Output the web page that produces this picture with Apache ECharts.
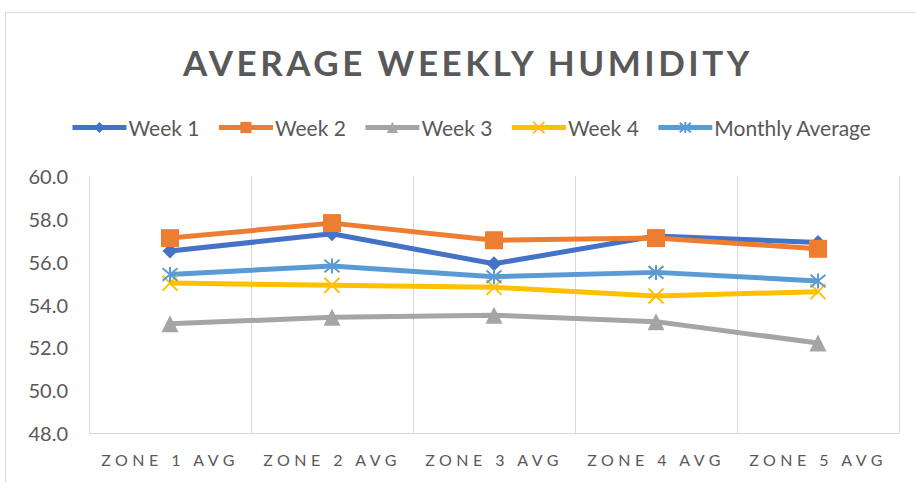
<!DOCTYPE html>
<html>
<head>
<meta charset="utf-8">
<script src="https://cdn.jsdelivr.net/npm/echarts@6/dist/echarts.min.js"></script>
<style>
  html, body { margin: 0; padding: 0; background: #fff; }
  #frame {
    position: absolute; left: 5px; top: 12px; width: 1000px; height: 1000px;
    border-top: 1px solid #d9d9d9; border-left: 1px solid #d9d9d9;
  }
  #chart { position: absolute; left: 0; top: 0; width: 916px; height: 482px; }
  /* spaced-out caps like the original title and zone labels */
  #chart text[style*="35px"] { letter-spacing: 3.5px; }
  #chart text[style*="16px"] { letter-spacing: 4.5px; }
</style>
</head>
<body>
<div id="frame"></div>
<div id="chart"></div>
<script>
const zones = ['ZONE 1 AVG', 'ZONE 2 AVG', 'ZONE 3 AVG', 'ZONE 4 AVG', 'ZONE 5 AVG']
const week1 = [56.5, 57.3, 55.9, 57.2, 56.9]
const week2 = [57.1, 57.8, 57.0, 57.1, 56.6]
const week3 = [53.1, 53.4, 53.5, 53.2, 52.2]
const week4 = [55.0, 54.9, 54.8, 54.4, 54.6]
const monthlyAvg = [55.4, 55.8, 55.3, 55.5, 55.1]

const FONT = 'Lato'
const TEXT = '#595959'
const GRID = '#d9d9d9'

const crossPath = 'path://M0,0L10,10M10,0L0,10'
const starPath = 'path://M0,0L10,10M10,0L0,10M5,-1L5,11'

function lineSeries(name, data, color, symbol, size, stroked) {
  return {
    name: name,
    type: 'line',
    data: data,
    symbol: symbol,
    symbolSize: size,
    showAllSymbol: true,
    lineStyle: { width: 5, color: color },
    itemStyle: stroked
      ? { color: 'rgba(0,0,0,0)', borderColor: color, borderWidth: 2 }
      : { color: color },
    emphasis: { disabled: true }
  }
}

const chart = echarts.init(document.getElementById('chart'), null, { renderer: 'svg' })
chart.setOption({
  animation: false,
  backgroundColor: 'transparent',
  title: {
    text: 'AVERAGE WEEKLY HUMIDITY',
    left: 183,
    top: 44,
    padding: 0,
    textStyle: { fontFamily: FONT, fontSize: 35, fontWeight: 'bold', color: TEXT }
  },
  legend: {
    top: 117,
    left: 70,
    padding: 0,
    itemWidth: 54,
    itemHeight: 14,
    itemGap: 17,
    lineStyle: { width: 5 },
    textStyle: { fontFamily: FONT, fontSize: 21, color: TEXT, padding: [0, 0, 0, -3] },
    data: ['Week 1', 'Week 2', 'Week 3', 'Week 4', 'Monthly Average']
  },
  grid: { left: 89, right: 17, top: 176, bottom: 49 },
  xAxis: {
    type: 'category',
    data: zones,
    boundaryGap: true,
    axisLine: { lineStyle: { color: GRID, width: 1 } },
    axisTick: { show: false },
    axisLabel: { fontFamily: FONT, fontSize: 16, color: TEXT, margin: 18, interval: 0 },
    splitLine: { show: true, lineStyle: { color: GRID, width: 1 } }
  },
  yAxis: {
    type: 'value',
    min: 48,
    max: 60,
    interval: 2,
    axisLine: { show: false },
    axisTick: { show: false },
    splitLine: { show: false },
    axisLabel: {
      fontFamily: FONT, fontSize: 20, color: TEXT, margin: 21,
      formatter: v => v.toFixed(1)
    }
  },
  series: [
    lineSeries('Week 1', week1, '#4472C4', 'diamond', 15, false),
    lineSeries('Week 2', week2, '#ED7D31', 'rect', 18, false),
    lineSeries('Week 3', week3, '#A5A5A5', 'triangle', 17, false),
    lineSeries('Week 4', week4, '#FFC000', crossPath, 15, true),
    lineSeries('Monthly Average', monthlyAvg, '#5B9BD5', starPath, 15, true)
  ]
})
</script>
</body>
</html>
